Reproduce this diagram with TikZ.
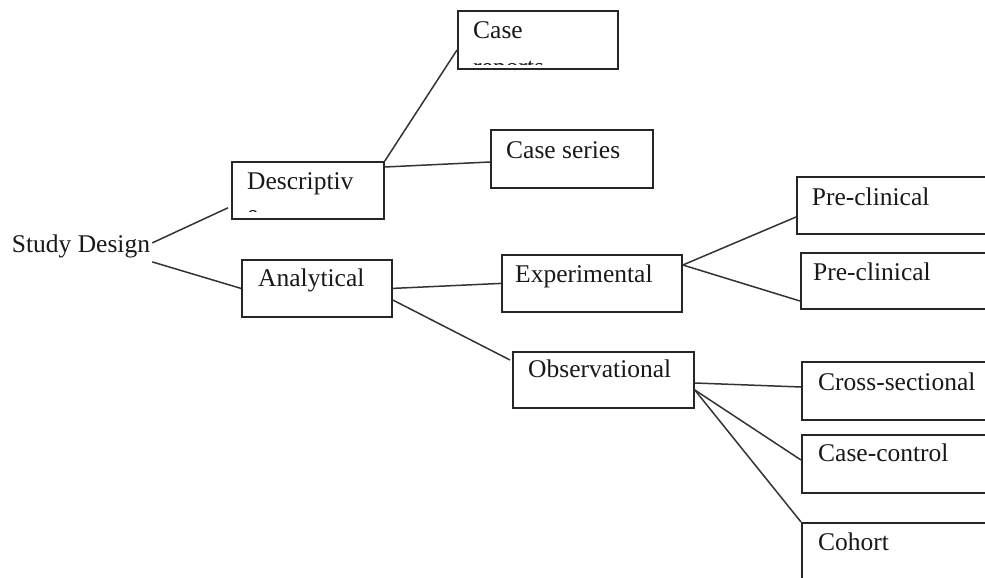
\documentclass[tikz,border=0pt]{standalone}
\usepackage{fontspec}
\setmainfont{Liberation Serif}
\usetikzlibrary{calc}
\begin{document}
\begin{tikzpicture}[x=1pt,y=-1pt,
  box/.style={draw=black!85,line width=1.8pt,rectangle,inner sep=0pt,anchor=north west},
  lbl/.style={anchor=base west,inner sep=0pt,text=black!90,font=\fontsize{25.5}{30}\selectfont},
  conn/.style={draw=black!80,line width=1.5pt}]
\clip (0,0) rectangle (985,578);
\fill[white] (0,0) rectangle (985,578);
% boxes
\node[box,minimum width=160pt,minimum height=58pt] (cr) at (457,10) {};
\node[box,minimum width=162pt,minimum height=58pt] (cs) at (490,129) {};
\node[box,minimum width=152pt,minimum height=57pt] (de) at (231,161) {};
\node[box,minimum width=150pt,minimum height=57pt] (an) at (241,259) {};
\node[box,minimum width=180pt,minimum height=57pt] (ex) at (501,254) {};
\node[box,minimum width=204pt,minimum height=57pt] (p1) at (796,176) {};
\node[box,minimum width=200pt,minimum height=56pt] (p2) at (800,252) {};
\node[box,minimum width=181pt,minimum height=56pt] (ob) at (512,351) {};
\node[box,minimum width=199pt,minimum height=58pt] (xs) at (801,361) {};
\node[box,minimum width=199pt,minimum height=58pt] (cc) at (801,434) {};
\node[box,minimum width=199pt,minimum height=78pt] (co) at (801,522) {};
% texts
\node[lbl] (sd) at (11.7,252) {Study Design};
\node[lbl] (tcr) at (473,38.5) {Case};
\begin{scope}
  \clip (457,10) rectangle (617,64.5);
  \node[lbl] (tcr2) at (473,76) {reports};
\end{scope}
\node[lbl] (tcs) at (506,158.5) {Case series};
\node[lbl] (tde) at (247,189) {Descriptiv};
\begin{scope}
  \clip (231,161) rectangle (383,211.5);
  \node[lbl] (tde2) at (247,222) {e};
\end{scope}
\node[lbl] (tan) at (258,286) {Analytical};
\node[lbl] (tex) at (515,282) {Experimental};
\node[lbl] (tob) at (528,377) {Observational};
\node[lbl] (tp1) at (811.7,205) {Pre-clinical};
\node[lbl] (tp2) at (813,280) {Pre-clinical};
\node[lbl] (txs) at (818,390) {Cross-sectional};
\node[lbl] (tcc) at (818,461.7) {Case-control};
\node[lbl] (tco) at (818,550) {Cohort};
% connectors
\draw[conn] ($(sd.east)+(2,-3)$) -- ($(de.south west)+(-3,-12)$);
\draw[conn] ($(sd.east)+(2,16)$) -- (an.west);
\draw[conn] (de.north east) -- ($(cr.north west)+(0,40)$);
\draw[conn] ($(de.north east)+(0,6)$) -- ($(cs.north west)+(0,33)$);
\draw[conn] (an.east) -- (ex.west);
\draw[conn] ($(an.north east)+(0,41)$) -- ($(ob.north west)+(-2,9)$);
\draw[conn] ($(ex.north east)+(0,11)$) -- ($(p1.north west)+(0,41)$);
\draw[conn] ($(ex.north east)+(0,11)$) -- ($(p2.north west)+(0,49)$);
\draw[conn] ($(ob.north east)+(0,32)$) -- ($(xs.north west)+(0,26)$);
\draw[conn] ($(ob.north east)+(0,39)$) -- ($(cc.north west)+(0,26)$);
\draw[conn] ($(ob.north east)+(0,39)$) -- (co.north west);
\end{tikzpicture}
\end{document}
